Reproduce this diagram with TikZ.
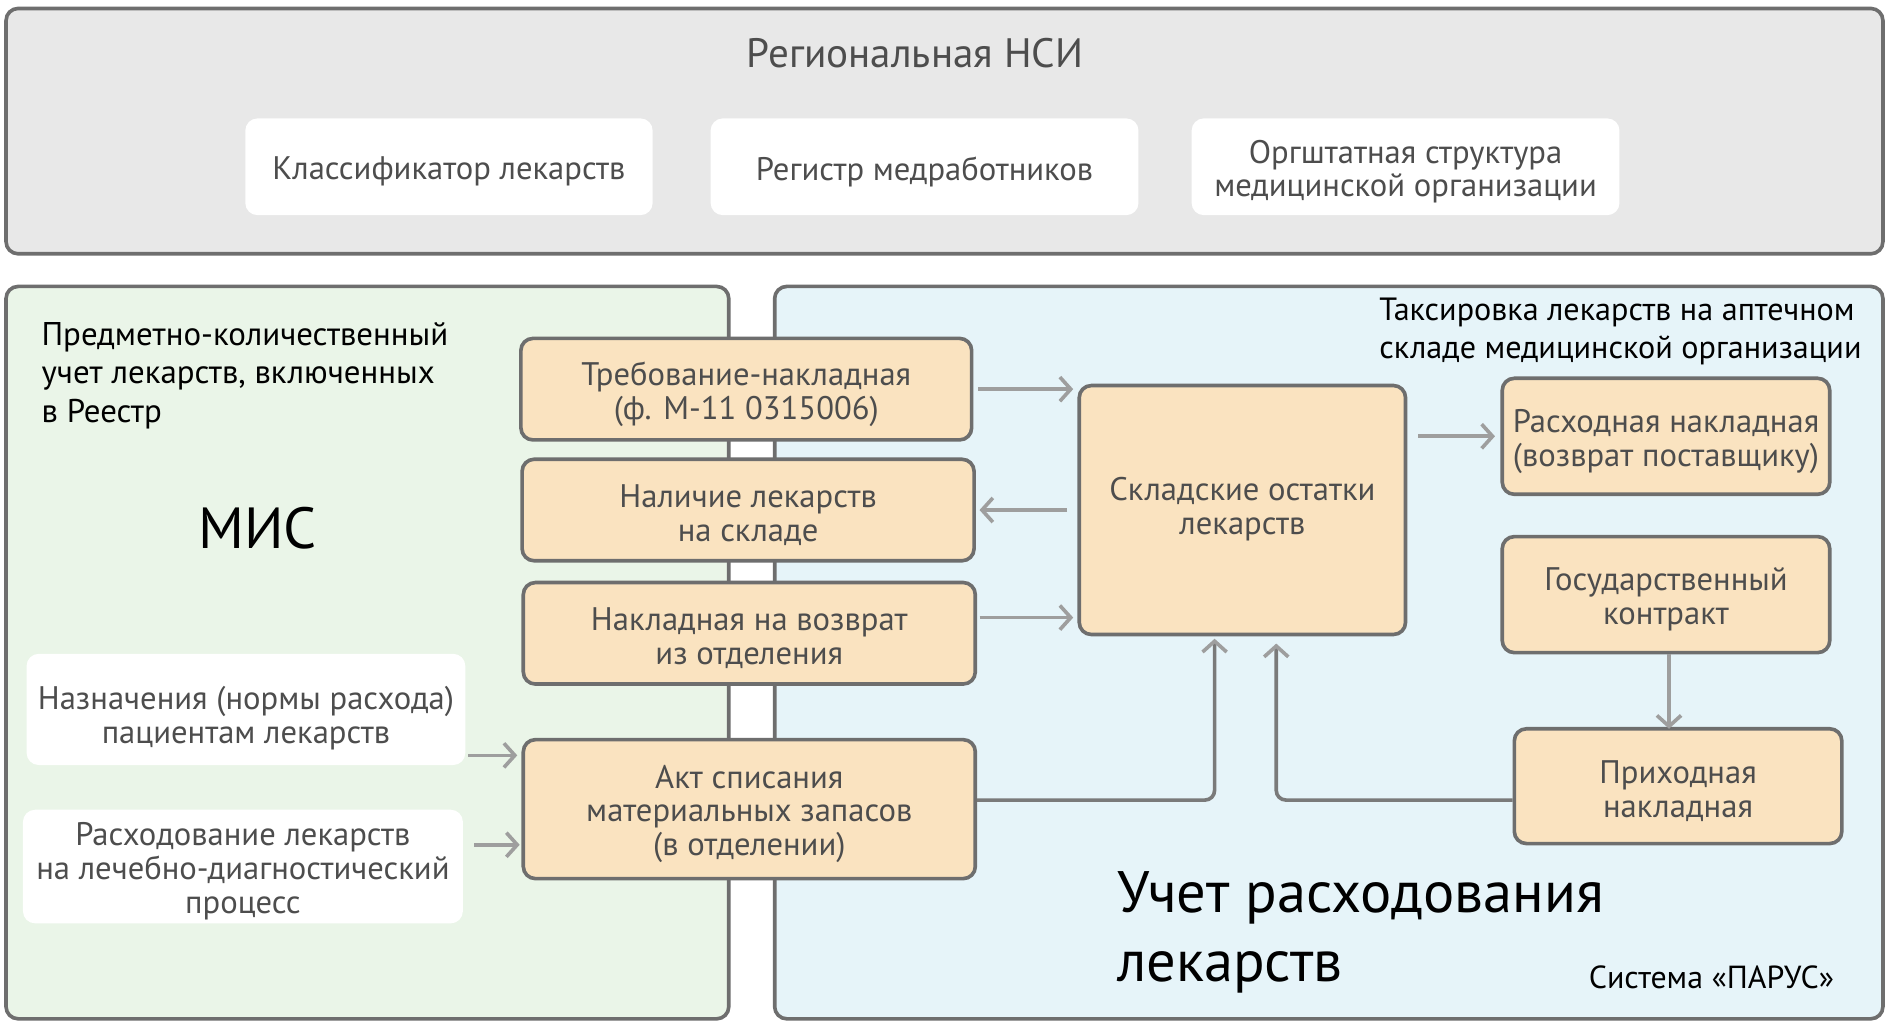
\documentclass[tikz,border=0pt]{standalone}
\usepackage{fontspec}
\setmainfont{PT Sans}
\usetikzlibrary{arrows.meta,fit}
\definecolor{bordergray}{HTML}{6E6E6E}
\definecolor{nsifill}{HTML}{E8E8E8}
\definecolor{misfill}{HTML}{EAF5E8}
\definecolor{parfill}{HTML}{E6F4F9}
\definecolor{orfill}{HTML}{FAE3C0}
\definecolor{txtgray}{HTML}{4D4D4D}
\definecolor{arrgray}{HTML}{9E9E9E}
\definecolor{elbgray}{HTML}{7A7A7A}
\tikzset{
  panel/.style={draw=bordergray, line width=1.5pt, rounded corners=5pt, inner sep=0pt},
  wbox/.style={fill=white, rounded corners=5pt, inner sep=0pt},
  obox/.style={draw=bordergray, fill=orfill, line width=1.5pt, rounded corners=5pt, inner sep=0pt},
  btext/.style={inner sep=0pt, align=center, text=txtgray, font=\fontsize{13.5}{14}\selectfont, yshift=-2pt},
  arr/.style={draw=arrgray, line width=1.5pt, -{Straight Barb[length=4.5pt,width=10pt]}},
  elb/.style={draw=elbgray, line width=1.5pt, rounded corners=4pt, -{Straight Barb[length=4.5pt,width=10pt,color=arrgray]}},
  lbl/.style={inner sep=0pt, align=left, text=black}
}
\begin{document}
\begin{tikzpicture}[x=0.5pt,y=-0.5pt]
\useasboundingbox (0,0) rectangle (1568,847);
\fill[white] (0,0) rectangle (1568,847);
% panels
\node[panel, fill=nsifill, fit={(5,7) (1558,210)}] (nsi) {};
\node[panel, fill=misfill, fit={(5,237) (603,843)}] (mis) {};
\node[panel, fill=parfill, fit={(641,237) (1558,843)}] (parus) {};
% NSI
\node[anchor=base, inner sep=0pt, text=txtgray, font=\fontsize{17}{20}\selectfont] (nsititle) at (757,56) {Региональная НСИ};
\node[wbox, fit={(203,98) (540,178)}] (klass) {};
\node[btext] (klassT) at (klass.center) {Классификатор лекарств};
\node[wbox, fit={(588,98) (942,178)}] (regm) {};
\node[btext] (regmT) at (regm.center) {Регистр медработников};
\node[wbox, fit={(986,98) (1340,178)}] (orgs) {};
\node[btext] (orgsT) at (orgs.center) {Оргштатная структура\\медицинской организации};
% MIS labels
\node[lbl, anchor=north west, font=\fontsize{13.6}{16}\selectfont] (pkuchet) at (34,266) {Предметно-количественный\\учет лекарств, включенных\\в Реестр};
\node[inner sep=0pt, font=\fontsize{24}{28}\selectfont] (mislbl) at (213,437) {МИС};
% left white boxes
\node[wbox, fit={(22,541) (385,633)}] (nazn) {};
\node[btext, yshift=-1.5pt] (naznT) at (nazn.center) {Назначения (нормы расхода)\\пациентам лекарств};
\node[wbox, fit={(19,670) (383,764)}] (rashod) {};
\node[btext] (rashodT) at (rashod.center) {Расходование лекарств\\на лечебно-диагностический\\процесс};
% orange boxes
\node[obox, fit={(431,280) (804,364)}] (treb) {};
\node[btext] (trebT) at (treb.center) {Требование-накладная\\(ф. М-11 0315006)};
\node[obox, fit={(432,380) (806,464)}] (nal) {};
\node[btext] (nalT) at (nal.center) {Наличие лекарств\\на складе};
\node[obox, fit={(433,482) (807,566)}] (voz) {};
\node[btext] (vozT) at (voz.center) {Накладная на возврат\\из отделения};
\node[obox, fit={(433,612) (807,727)}] (akt) {};
\node[btext] (aktT) at (akt.center) {Акт списания\\материальных запасов\\(в отделении)};
\node[obox, fit={(893,319) (1163,525)}] (sklad) {};
\node[btext, yshift=2.5pt] (skladT) at (sklad.center) {Складские остатки\\лекарств};
\node[obox, fit={(1243,313) (1514,409)}] (rasn) {};
\node[btext] (rasnT) at (rasn.center) {Расходная накладная\\(возврат поставщику)};
\node[obox, fit={(1243,444) (1514,540)}] (gosk) {};
\node[btext] (goskT) at (gosk.center) {Государственный\\контракт};
\node[obox, fit={(1253,603) (1524,698)}] (prih) {};
\node[btext] (prihT) at (prih.center) {Приходная\\накладная};
% right labels
\node[lbl, anchor=north west, font=\fontsize{13.3}{16}\selectfont] (taks) at (1141,246) {Таксировка лекарств на аптечном\\складе медицинской организации};
\node[lbl, anchor=north west, font=\fontsize{24.2}{28.5}\selectfont] (uchet) at (924,721) {Учет расходования\\лекарств};
\node[lbl, anchor=base east, font=\fontsize{13.2}{16}\selectfont] (sist) at (1518,818) {Система «ПАРУС»};
% connectors
\coordinate (c1) at (888,322);
\draw[arr] (treb.east |- c1) ++(4,0) -- (c1);
\coordinate (c2) at (883,422);
\draw[arr] (c2) -- ([xshift=1.5pt]nal.east |- c2);
\coordinate (c3) at (888,511);
\draw[arr] (voz.east |- c3) ++(2,0) -- (c3);
\coordinate (c4) at (1237,361);
\draw[arr] (sklad.east |- c4) ++(9,0) -- (c4);
\coordinate (c5) at (1381,603);
\draw[arr] (gosk.south -| c5) -- (c5);
\coordinate (c6) at (1005,662);
\draw[elb] (akt.east |- c6) -- (c6) -- ([yshift=-1pt]sklad.south -| c6);
\coordinate (c7) at (1056,662);
\draw[elb] (prih.west |- c7) -- (c7) -- ([yshift=-3pt]sklad.south -| c7);
\coordinate (c8) at (428,625);
\draw[arr] (nazn.east |- c8) ++(2,0) -- (c8);
\coordinate (c9) at (430,699);
\draw[arr] (rashod.east |- c9) ++(9,0) -- (c9);
\end{tikzpicture}
\end{document}
